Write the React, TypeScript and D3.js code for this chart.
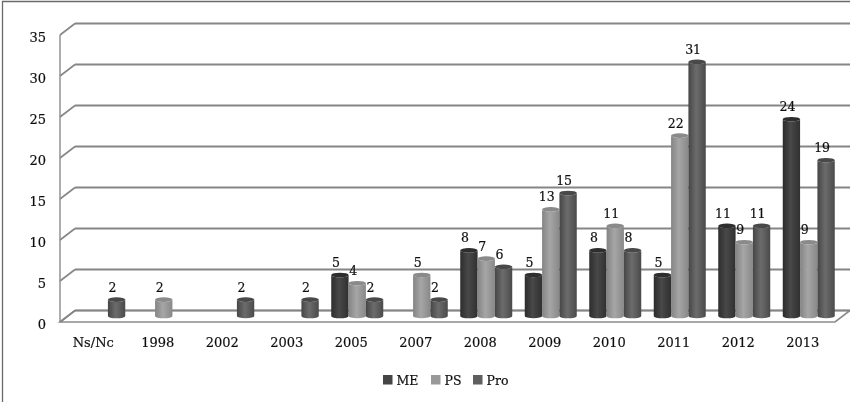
import React, { useEffect, useRef } from "react";
import * as d3 from "d3";

const categories = ["Ns/Nc", "1998", "2002", "2003", "2005", "2007", "2008", "2009", "2010", "2011", "2012", "2013"];
const seriesNames = ["ME", "PS", "Pro"];
const meValues = [0, 0, 0, 0, 5, 0, 8, 5, 8, 5, 11, 24];
const psValues = [0, 2, 0, 0, 4, 5, 7, 13, 11, 22, 9, 9];
const proValues = [2, 0, 2, 2, 2, 2, 6, 15, 8, 31, 11, 19];
const yTicks = [0, 5, 10, 15, 20, 25, 30, 35];
const seriesShades = [
  ["#2c2c2c", "#484848", "#303030"],
  ["#848484", "#a6a6a6", "#888888"],
  ["#464646", "#6c6c6c", "#4a4a4a"],
];
const capColors = ["#2e2e2e", "#8a8a8a", "#484848"];
const legendColors = ["#444444", "#999999", "#5f5f5f"];

const width = 850;
const height = 402;
const fontFamily = "'DejaVu Serif', serif";
const depthX = 15;
const depthY = 11.5;

export default function App() {
  const ref = useRef<SVGSVGElement>(null);

  useEffect(() => {
    const svg = d3.select(ref.current);
    svg.selectAll("*").remove();

    const x = d3.scaleBand().domain(categories).range([61, 835]);
    const y = d3.scaleLinear().domain([0, 35]).range([322, 35]);
    const barBand = d3.scaleBand().domain(seriesNames).range([0, 52]);
    const unit = barBand.bandwidth();
    const barLeft = (cat: string, name: string) =>
      (x(cat) as number) + x.bandwidth() / 2 + 6 - 26 + (barBand(name) as number);
    const barBase = (v: number) => y(v) - 6;

    const defs = svg.append("defs");
    seriesNames.forEach((name, i) => {
      const grad = defs.append("linearGradient").attr("id", `cyl-${name}`);
      grad.append("stop").attr("offset", "0%").attr("stop-color", seriesShades[i][0]);
      grad.append("stop").attr("offset", "45%").attr("stop-color", seriesShades[i][1]);
      grad.append("stop").attr("offset", "100%").attr("stop-color", seriesShades[i][2]);
    });
    defs
      .append("filter")
      .attr("id", "soft")
      .append("feGaussianBlur")
      .attr("stdDeviation", 0.4);
    defs
      .append("filter")
      .attr("id", "softText")
      .append("feGaussianBlur")
      .attr("stdDeviation", 0.25);

    // outer frame of the scan
    svg
      .append("path")
      .attr("d", "M2.5,402V1.5H850")
      .attr("fill", "none")
      .attr("stroke", "#6a6a6a")
      .attr("stroke-width", 1.3);

    const plot = svg.append("g").attr("filter", "url(#soft)");
    const labels = svg
      .append("g")
      .attr("filter", "url(#softText)")
      .attr("stroke", "#111111")
      .attr("stroke-width", 0.2);

    // floor
    plot
      .append("path")
      .attr(
        "d",
        `M60,${y(0)}L${x.range()[1]},${y(0)}L${x.range()[1] + depthX},${y(0) - depthY}L${60 + depthX},${y(0) - depthY}Z`
      )
      .attr("fill", "#ffffff")
      .attr("stroke", "#8a8a8a")
      .attr("stroke-width", 1.6);

    // walls and grid
    const grid = plot.append("g");
    grid
      .selectAll("line.back")
      .data(yTicks)
      .join("line")
      .attr("x1", 60 + depthX)
      .attr("x2", x.range()[1] + depthX)
      .attr("y1", (d) => y(d) - depthY)
      .attr("y2", (d) => y(d) - depthY)
      .attr("stroke", "#858585")
      .attr("stroke-width", 2);
    grid
      .selectAll("line.side")
      .data(yTicks)
      .join("line")
      .attr("class", "side")
      .attr("x1", 60)
      .attr("x2", 60 + depthX)
      .attr("y1", (d) => y(d))
      .attr("y2", (d) => y(d) - depthY)
      .attr("stroke", "#858585")
      .attr("stroke-width", 1.6);
    grid
      .append("line")
      .attr("x1", 60)
      .attr("x2", 60)
      .attr("y1", y(35))
      .attr("y2", y(0))
      .attr("stroke", "#8a8a8a")
      .attr("stroke-width", 1.4);

    // cylinders
    const allValues = [meValues, psValues, proValues];
    const bars = plot.append("g");
    seriesNames.forEach((name, i) => {
      const rows = categories
        .map((cat, k) => ({ cat, value: allValues[i][k] }))
        .filter((d) => d.value > 0);
      const g = bars.append("g");
      const ry = 2.3;
      g.selectAll("path")
        .data(rows)
        .join("path")
        .attr("d", (d) => {
          const l = barLeft(d.cat, name);
          const r = l + unit;
          const top = barBase(d.value);
          const bottom = barBase(0);
          return `M${l},${top}L${l},${bottom}A${unit / 2},${ry} 0 0 0 ${r},${bottom}L${r},${top}A${unit / 2},${ry} 0 0 1 ${l},${top}Z`;
        })
        .attr("fill", `url(#cyl-${name})`);
      g.selectAll("ellipse")
        .data(rows)
        .join("ellipse")
        .attr("cx", (d) => barLeft(d.cat, name) + unit / 2)
        .attr("cy", (d) => barBase(d.value))
        .attr("rx", unit / 2)
        .attr("ry", ry)
        .attr("fill", capColors[i]);
    });

    // value labels
    seriesNames.forEach((name, i) => {
      const rows = categories
        .map((cat, k) => ({ cat, value: allValues[i][k] }))
        .filter((d) => d.value > 0);
      labels
        .append("g")
        .selectAll("text")
        .data(rows)
        .join("text")
        .attr("x", (d) => barLeft(d.cat, name) + unit / 2 - 4)
        .attr("y", (d) => barBase(d.value) - 8)
        .attr("text-anchor", "middle")
        .attr("font-family", fontFamily)
        .attr("font-size", 12.5)
        .attr("fill", "#111111")
        .text((d) => d.value);
    });

    // axes
    const yAxis = labels
      .append("g")
      .attr("transform", "translate(46,2)")
      .call(d3.axisLeft(y).tickValues(yTicks).tickSize(0).tickPadding(0));
    yAxis.select(".domain").remove();
    yAxis.selectAll("text").attr("font-family", fontFamily).attr("font-size", 13).attr("fill", "#111111");

    const xAxis = labels
      .append("g")
      .attr("transform", `translate(0,${y(0)})`)
      .call(d3.axisBottom(x).tickSize(0).tickPadding(16));
    xAxis.select(".domain").remove();
    xAxis.selectAll("text").attr("font-family", fontFamily).attr("font-size", 13).attr("fill", "#111111");

    // legend
    const legendX = d3.scaleOrdinal<string, number>().domain(seriesNames).range([383, 431, 473]);
    const legend = labels
      .append("g")
      .selectAll("g")
      .data(seriesNames)
      .join("g")
      .attr("transform", (d) => `translate(${legendX(d)},375)`);
    legend
      .append("rect")
      .attr("width", 9.5)
      .attr("height", 9.5)
      .attr("stroke", "none")
      .attr("fill", (_, i) => legendColors[i]);
    legend
      .append("text")
      .attr("x", 13.5)
      .attr("y", 9.5)
      .attr("font-family", fontFamily)
      .attr("font-size", 12.5)
      .attr("fill", "#111111")
      .text((d) => d);
  }, []);

  return (
    <svg
      ref={ref}
      width={width}
      height={height}
      style={{ position: "absolute", left: 0, top: 0, background: "#ffffff" }}
    />
  );
}
